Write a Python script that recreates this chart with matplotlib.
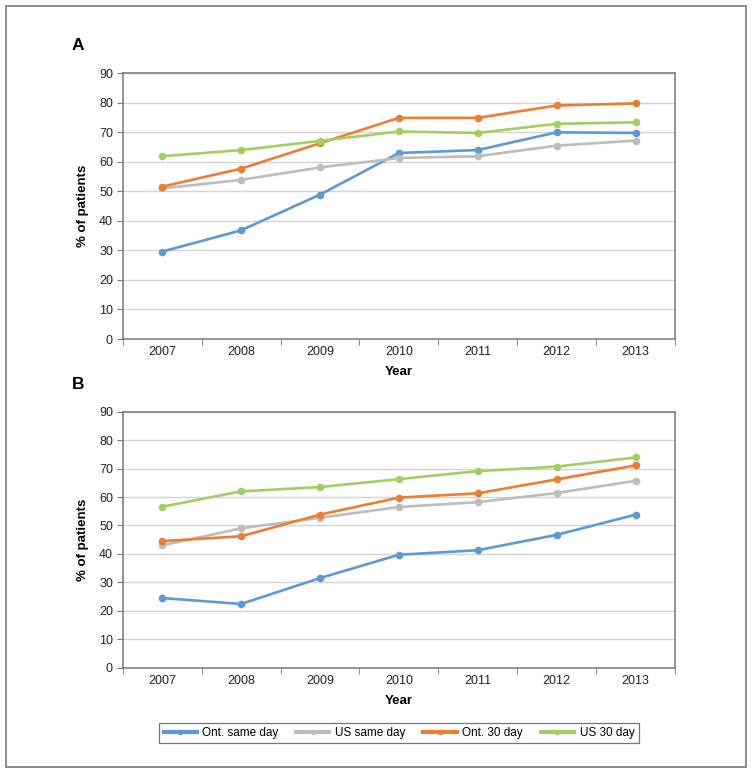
import matplotlib
matplotlib.use("Agg")
import matplotlib.pyplot as plt
from matplotlib.patches import Rectangle
from matplotlib.lines import Line2D

plt.rcParams['font.family'] = ['Liberation Sans', 'DejaVu Sans']

years = ["2007", "2008", "2009", "2010", "2011", "2012", "2013"]
series_names = ["Ont. same day", "US same day", "Ont. 30 day", "US 30 day"]
colors = ["#5B9BD5", "#BDBDBD", "#ED7D31", "#A3CF62"]

# Panel A
a_ont_same = [29.6, 36.8, 48.9, 63.0, 64.0, 70.0, 69.8]
a_us_same = [51.0, 53.9, 58.1, 61.3, 61.9, 65.5, 67.2]
a_ont_30 = [51.6, 57.7, 66.3, 74.9, 74.9, 79.1, 79.8]
a_us_30 = [61.9, 64.0, 67.1, 70.3, 69.8, 72.9, 73.4]

# Panel B
b_ont_same = [24.5, 22.4, 31.5, 39.7, 41.3, 46.7, 53.8]
b_us_same = [43.0, 49.0, 52.7, 56.5, 58.2, 61.4, 65.7]
b_ont_30 = [44.5, 46.2, 53.8, 59.8, 61.3, 66.2, 71.1]
b_us_30 = [56.6, 62.0, 63.5, 66.3, 69.1, 70.7, 73.9]

W, H = 754, 774
fig = plt.figure(figsize=(W / 100, H / 100), dpi=100)

# outer frame
fig.patches.append(Rectangle((6 / W, 1 - 767 / H), 740 / W, 761 / H,
                             transform=fig.transFigure, fill=False,
                             edgecolor="#8C8C8C", linewidth=1.4))

def panel(rect, data, letter, letter_y):
    ax = fig.add_axes(rect)
    x = list(range(len(years)))
    for vals, c in zip(data, colors):
        ax.plot(x, vals, color=c, linewidth=1.9, marker='o', markersize=5.5,
                markeredgewidth=0, zorder=3)
    ax.set_xlim(-0.5, len(years) - 0.5)
    ax.set_ylim(0, 90)
    ax.set_yticks(range(0, 91, 10))
    ax.set_xticks(x)
    ax.set_xticklabels(years)
    ax.set_xticks([i - 0.5 for i in range(len(years) + 1)], minor=True)
    ax.tick_params(axis='x', which='major', length=0, pad=5, labelsize=9,
                   colors="#222222")
    ax.tick_params(axis='x', which='minor', length=4, direction='out',
                   color="#777777")
    ax.tick_params(axis='y', length=4, direction='out', color="#777777",
                   labelsize=9, labelcolor="#222222", pad=3)
    ax.grid(axis='y', color="#D4D4D4", linewidth=1.0, zorder=0)
    ax.set_axisbelow(True)
    for s in ax.spines.values():
        s.set_color("#777777")
        s.set_linewidth(1.1)
    ax.set_xlabel("Year", fontsize=9.5, fontweight='bold', labelpad=6)
    ax.set_ylabel("% of patients", fontsize=9.5, fontweight='bold', labelpad=7)
    fig.text(72 / W, 1 - letter_y / H, letter, fontsize=12.5, fontweight='bold',
             va='center', ha='left')
    return ax

panel([122.7 / W, 1 - 339 / H, (675 - 122.7) / W, (339 - 73.3) / H],
      [a_ont_same, a_us_same, a_ont_30, a_us_30], "A", 45)
panel([122.7 / W, 1 - 667.7 / H, (675 - 122.7) / W, (667.7 - 411.7) / H],
      [b_ont_same, b_us_same, b_ont_30, b_us_30], "B", 385)

handles = [Line2D([0], [0], color=c, linewidth=3, marker='o', markersize=4,
                  markeredgewidth=0) for c in colors]
leg = fig.legend(handles, series_names, loc='center', ncol=4,
                 bbox_to_anchor=(399 / W, 1 - 733 / H), frameon=True,
                 fancybox=False, edgecolor="#555555", fontsize=8.5,
                 handlelength=2.8, columnspacing=1.5, handletextpad=0.5,
                 borderpad=0.35)
leg.get_frame().set_linewidth(0.9)

fig.savefig("out.png", dpi=100)
